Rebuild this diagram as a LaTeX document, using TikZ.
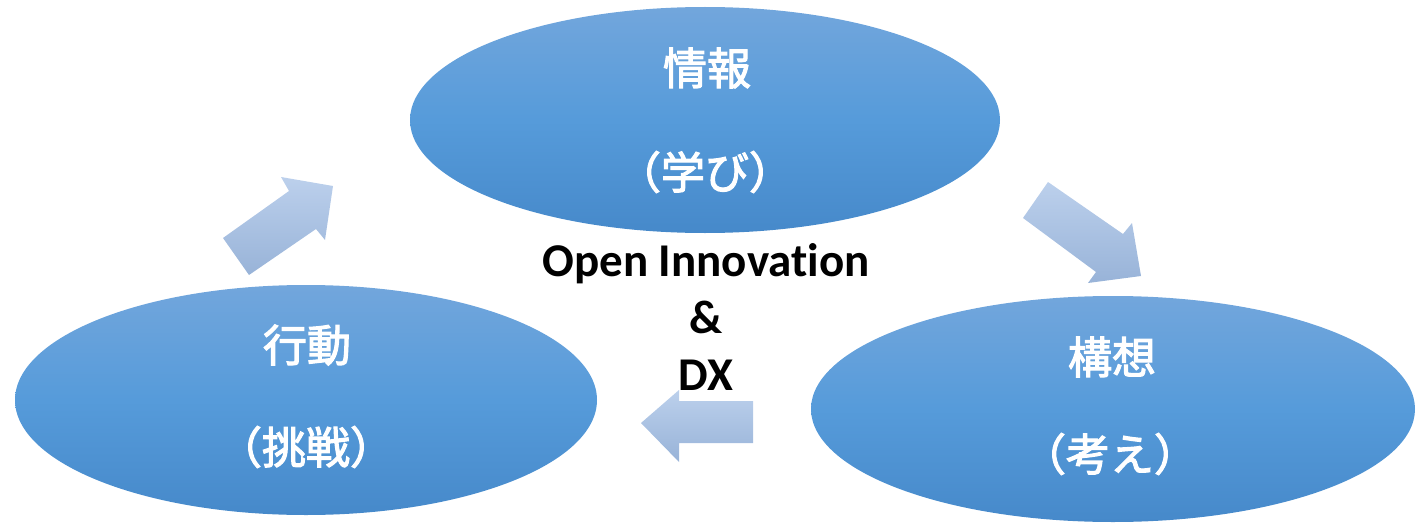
\documentclass[tikz,border=0pt]{standalone}
\usepackage{fontspec}
\setmainfont{Carlito}[Ligatures={NoCommon,NoRequired,NoContextual},RawFeature={-liga;-clig;-dlig}]
\newfontfamily\jp{Noto Sans CJK JP}[FakeBold=2.5]
\definecolor{elTop}{RGB}{114,166,220}
\definecolor{elMid}{RGB}{86,155,218}
\definecolor{elBot}{RGB}{70,137,202}
\definecolor{arTop}{RGB}{188,208,236}
\definecolor{arBot}{RGB}{152,179,216}
\tikzset{
  blob/.style={top color=elTop, bottom color=elBot, middle color=elMid},
  blockarrow/.style={top color=arTop, bottom color=arBot},
  jplabel/.style={font=\jp\fontsize{44}{50}\selectfont, text=white, inner sep=0pt},
  enlabel/.style={font=\bfseries\fontsize{47}{56}\selectfont, text=black, inner sep=0pt, anchor=base}
}
\begin{document}
\begin{tikzpicture}[x=1pt,y=-1pt]
\useasboundingbox (0,0) rectangle (1422,527);
% ellipses
\shade[blob] (705,120) ellipse [x radius=295pt, y radius=113pt];
\shade[blob] (306,400) ellipse [x radius=291pt, y radius=115pt];
\shade[blob] (1113,409) ellipse [x radius=302pt, y radius=113pt];
% block arrows
\shade[blockarrow] (223,238) -- (289,191) -- (281,177) -- (333,186) -- (325,240) -- (316,229) -- (249,275) -- cycle;
\shade[blockarrow] (1048,182) -- (1123,234) -- (1132,223) -- (1141,276) -- (1088,283) -- (1096,272) -- (1023,218) -- cycle;
\shade[blockarrow] (753,401) -- (679,401) -- (679,390) -- (641,423) -- (679,462) -- (679,443) -- (753,443) -- cycle;
% labels
\node[jplabel] (info) at (707,68) {情報};
\node[jplabel] (learn) at (705,172) {（学び）};
\node[jplabel] (act) at (307,345) {行動};
\node[jplabel] (chal) at (306,447) {（挑戦）};
\node[jplabel] (plan) at (1112,357) {構想};
\node[jplabel] (think) at (1110,454) {（考え）};
\node[enlabel] (oi) at (706,276) {Open Innovation};
\node[enlabel] (amp) at (706,333) {\&};
\node[enlabel] (dx) at (706,390) {DX};
\end{tikzpicture}
\end{document}
